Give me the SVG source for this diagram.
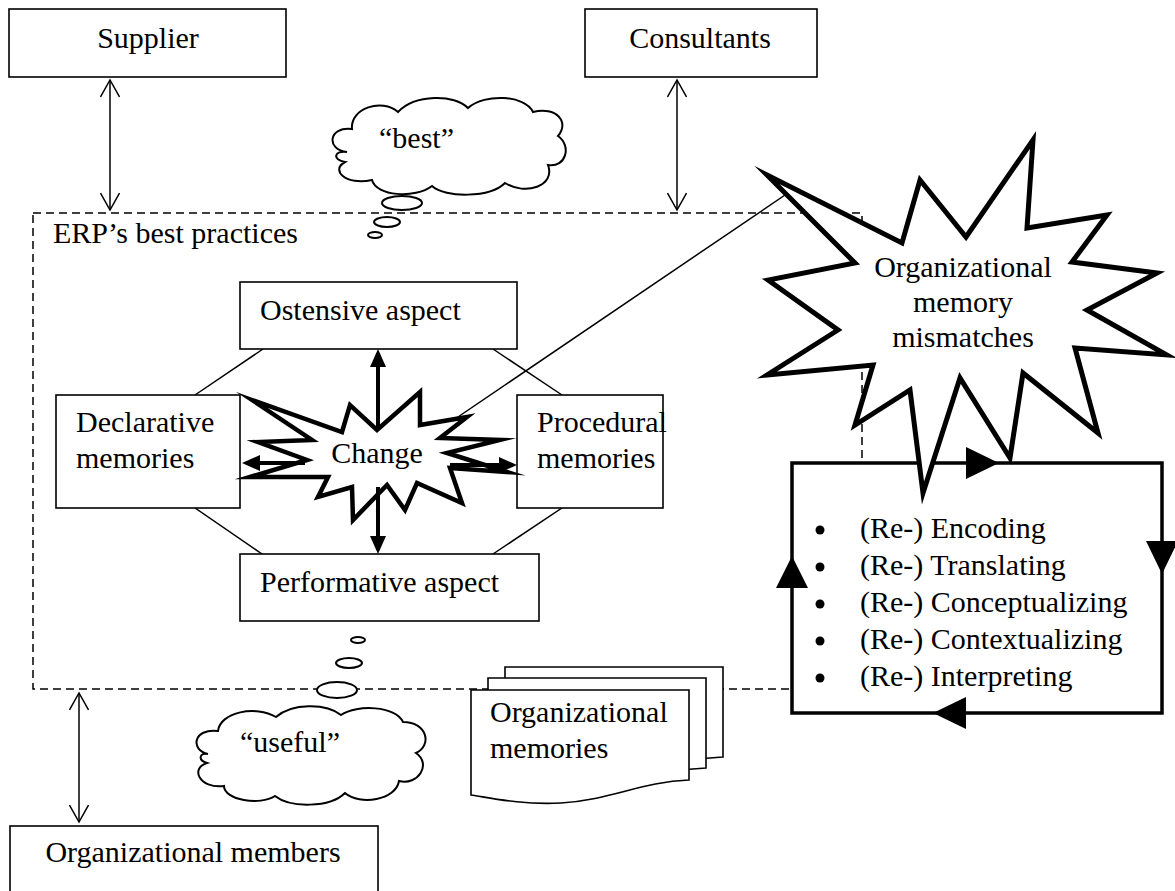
<svg xmlns="http://www.w3.org/2000/svg" width="1175" height="891" viewBox="0 0 1175 891">
<style>
text{font-family:"Liberation Serif","Times New Roman",serif;font-size:30px;fill:#000}
.box{fill:#fff;stroke:#000;stroke-width:1.6}
.thin{fill:none;stroke:#000;stroke-width:1.5}
.dash{fill:none;stroke:#000;stroke-width:1.5;stroke-dasharray:8 5}
.thick{fill:none;stroke:#000;stroke-width:4}
.cloud{fill:#fff;stroke:#000;stroke-width:2}
.star{fill:#fff;stroke:#000;stroke-linejoin:miter;stroke-miterlimit:20}
.tri{fill:#000;stroke:none}
.bullet{fill:#000}
.mid{text-anchor:middle}
</style>
<defs>
<marker id="open" viewBox="0 0 20 20" refX="18" refY="10" markerWidth="20" markerHeight="20" markerUnits="userSpaceOnUse" orient="auto-start-reverse">
<path d="M1,0.5 L18,10 L1,19.5" fill="none" stroke="#000" stroke-width="1.5"/>
</marker>
<marker id="solid" viewBox="0 0 18 16" refX="14" refY="8" markerWidth="18" markerHeight="16" markerUnits="userSpaceOnUse" orient="auto-start-reverse">
<path d="M0,0 L18,8 L0,16 Z" fill="#000"/>
</marker>
<path id="doc" d="M0,0 H218 V90 C170,92 140,110 90,113 C50,115 20,108 0,105 Z"/>
</defs>

<g id="erp-boundary">
<rect x="33" y="213" width="829" height="476" class="dash"/>
<text x="53" y="243">ERP’s best practices</text>
</g>

<g id="connectors">
<line x1="110" y1="80" x2="110" y2="210" class="thin" marker-start="url(#open)" marker-end="url(#open)"/>
<line x1="677" y1="80" x2="677" y2="210" class="thin" marker-start="url(#open)" marker-end="url(#open)"/>
<line x1="79" y1="693" x2="79" y2="822" class="thin" marker-start="url(#open)" marker-end="url(#open)"/>
<line x1="263" y1="349" x2="195" y2="395" class="thin"/>
<line x1="195" y1="508" x2="262" y2="554" class="thin"/>
<line x1="493" y1="349" x2="562" y2="395" class="thin"/>
<line x1="562" y1="508" x2="493" y2="554" class="thin"/>
<line x1="455" y1="419" x2="788" y2="193" class="thin"/>
</g>

<g id="supplier">
<rect x="9" y="9" width="277" height="68" class="box"/>
<text x="148" y="48" class="mid">Supplier</text>
</g>
<g id="consultants">
<rect x="585" y="9" width="232" height="68" class="box"/>
<text x="700" y="48" class="mid">Consultants</text>
</g>
<g id="org-members">
<rect x="10" y="826" width="368" height="80" class="box"/>
<text x="193" y="862" class="mid">Organizational members</text>
</g>

<g id="cloud-best">
<path class="cloud" d="M347,152 C326,150 328,126 352,129 C350,108 382,98 398,112 C415,94 455,94 468,108 C485,93 525,95 533,112 C556,106 570,122 558,136 C572,146 566,168 548,165 C556,186 525,196 505,183 C490,198 445,198 432,186 C415,199 376,196 372,180 C346,186 330,170 345,162 C332,160 334,150 347,152 Z"/>
<text x="379" y="148">“best”</text>
<ellipse cx="402" cy="203" rx="20" ry="7" class="cloud"/>
<ellipse cx="387" cy="222" rx="13" ry="5" class="cloud"/>
<ellipse cx="375" cy="235" rx="7" ry="3" class="cloud"/>
</g>

<g id="cloud-useful">
<ellipse cx="358" cy="640" rx="7" ry="3" class="cloud"/>
<ellipse cx="349" cy="663" rx="13" ry="5" class="cloud"/>
<ellipse cx="337" cy="690" rx="20" ry="8" class="cloud"/>
<path class="cloud" d="M208,754 C190,750 193,728 218,731 C220,712 256,705 276,717 C292,703 326,703 341,715 C357,704 396,706 403,722 C428,722 432,746 416,753 C432,764 418,786 399,781 C396,800 360,806 345,793 C330,808 290,808 275,796 C260,806 224,800 224,786 C199,789 190,768 207,763 C197,760 200,752 208,754 Z"/>
<text x="240" y="752">“useful”</text>
</g>

<g id="ostensive">
<rect x="240" y="282" width="277" height="67" class="box"/>
<text x="260" y="320">Ostensive aspect</text>
</g>
<g id="declarative">
<rect x="56" y="395" width="184" height="113" class="box"/>
<text x="76" y="432">Declarative</text>
<text x="76" y="468">memories</text>
</g>
<g id="procedural">
<rect x="517" y="395" width="146" height="113" class="box"/>
<text x="537" y="432">Procedural</text>
<text x="537" y="468">memories</text>
</g>
<g id="performative">
<rect x="240" y="554" width="299" height="67" class="box"/>
<text x="260" y="592">Performative aspect</text>
</g>

<g id="change">
<polygon class="star" stroke-width="4.5" points="252,400 342,432 350,405 377,430 420,392 420,425 467,417 440,438 500,440 447,453 507,472 450,468 462,503 417,483 405,510 387,485 353,520 352,487 318,497 328,477 250,477 307,460 258,442 312,440"/>
<text x="377" y="463" class="mid">Change</text>
</g>

<g id="change-arrows">
<line x1="378" y1="428" x2="378" y2="353" class="thick" marker-end="url(#solid)"/>
<line x1="378" y1="487" x2="378" y2="550" class="thick" marker-end="url(#solid)"/>
<line x1="305" y1="463" x2="246" y2="463" class="thick" marker-end="url(#solid)"/>
<line x1="450" y1="465" x2="513" y2="465" class="thick" marker-end="url(#solid)"/>
</g>

<g id="org-memories">
<use href="#doc" x="505" y="667" class="box"/>
<use href="#doc" x="488" y="678" class="box"/>
<use href="#doc" x="471" y="690" class="box"/>
<text x="490" y="722">Organizational</text>
<text x="490" y="758">memories</text>
</g>

<g id="process">
<rect x="792" y="463" width="370" height="250" fill="#fff" stroke="#000" stroke-width="3.5"/>
<polygon class="tri" points="966,447 999,463 966,479"/>
<polygon class="tri" points="1146,541 1178,541 1162,574"/>
<polygon class="tri" points="966,697 933,713 966,729"/>
<polygon class="tri" points="776,588 792,556 808,588"/>
<circle class="bullet" cx="820" cy="530" r="4.5"/>
<circle class="bullet" cx="820" cy="567" r="4.5"/>
<circle class="bullet" cx="820" cy="604" r="4.5"/>
<circle class="bullet" cx="820" cy="641" r="4.5"/>
<circle class="bullet" cx="820" cy="678" r="4.5"/>
<text x="860" y="538">(Re-) Encoding</text>
<text x="860" y="575">(Re-) Translating</text>
<text x="860" y="612">(Re-) Conceptualizing</text>
<text x="860" y="649">(Re-) Contextualizing</text>
<text x="860" y="686">(Re-) Interpreting</text>
</g>

<g id="mismatches">
<polygon class="star" stroke-width="5" points="767,175 902,243 920,180 966,237 1033,140 1027,228 1107,215 1072,262 1157,273 1087,310 1167,355 1075,348 1098,433 1023,373 1010,458 960,378 923,493 910,390 855,425 873,365 767,375 838,330 768,280 855,263"/>
<text x="963" y="277" class="mid">Organizational</text>
<text x="963" y="312" class="mid">memory</text>
<text x="963" y="347" class="mid">mismatches</text>
</g>
</svg>
